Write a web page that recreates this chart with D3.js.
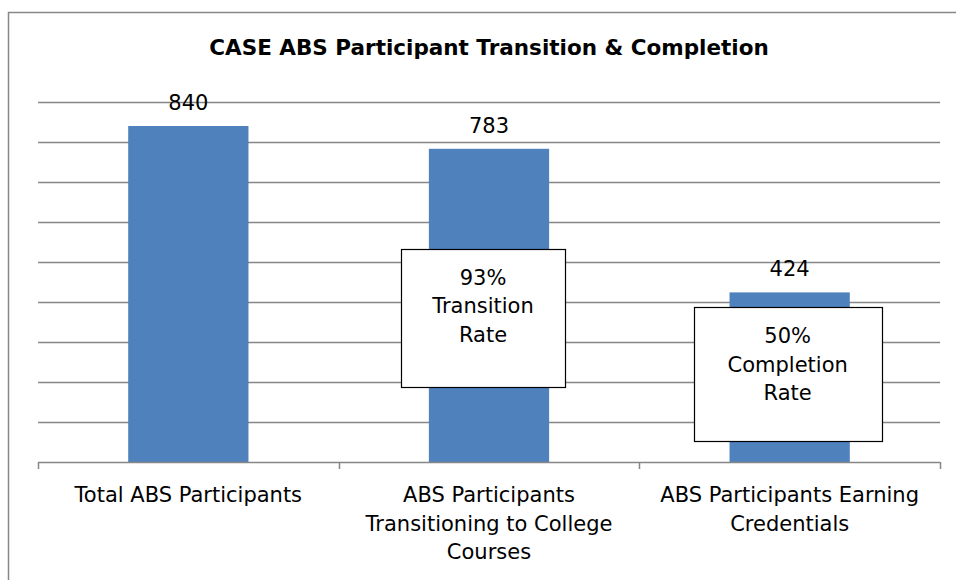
<!DOCTYPE html>
<html>
<head>
<meta charset="utf-8">
<script src="https://cdn.jsdelivr.net/npm/d3@7"></script>
<style>
  body { margin: 0; background: #fff; }
  text { font-family: 'DejaVu Sans', sans-serif; fill: #000; }
</style>
</head>
<body>
<div id="chart_area"></div>
<script>
// chart data
const categories = [
  ['Total ABS Participants'],
  ['ABS Participants', 'Transitioning to College', 'Courses'],
  ['ABS Participants Earning', 'Credentials']
];
const values = [840, 783, 424];
const yTicks = [0, 100, 200, 300, 400, 500, 600, 700, 800, 900];
const rateLabels = [null, ['93%', 'Transition', 'Rate'], ['50%', 'Completion', 'Rate']];
const title = 'CASE ABS Participant Transition & Completion';

const svgWidth = 956;
const svgHeight = 580;
const margin = { top: 102, right: 16, bottom: 118, left: 38 };
const width = svgWidth - margin.left - margin.right;
const height = svgHeight - margin.top - margin.bottom;
const fontSize = 21;

const svg = d3
  .select('#chart_area')
  .append('svg')
  .attr('width', svgWidth)
  .attr('height', svgHeight);

// outer frame
svg
  .append('rect')
  .attr('x', 8.5)
  .attr('y', 12.5)
  .attr('width', 1000)
  .attr('height', 700)
  .attr('fill', 'none')
  .attr('stroke', '#878787')
  .attr('stroke-width', 1.5);

svg
  .append('text')
  .attr('x', 489)
  .attr('y', 55)
  .attr('text-anchor', 'middle')
  .attr('font-size', 21.5)
  .attr('font-weight', 'bold')
  .text(title);

const g = svg
  .append('g')
  .attr('transform', 'translate(' + margin.left + ',' + margin.top + ')');

const x = d3
  .scaleBand()
  .domain(d3.range(values.length))
  .range([0, width])
  .paddingInner(0.6)
  .paddingOuter(0.3);
const y = d3.scaleLinear().domain([0, 900]).range([height, 0]);

// gridlines
g.append('g')
  .selectAll('line')
  .data(yTicks.slice(1))
  .join('line')
  .attr('x1', 0)
  .attr('x2', width)
  .attr('y1', (d) => Math.round(y(d)) + 0.5)
  .attr('y2', (d) => Math.round(y(d)) + 0.5)
  .attr('stroke', '#868686')
  .attr('stroke-width', 1.5);

// bars
g.append('g')
  .selectAll('rect')
  .data(values)
  .join('rect')
  .attr('x', (d, i) => x(i))
  .attr('y', (d) => y(d))
  .attr('width', x.bandwidth())
  .attr('height', (d) => height - y(d))
  .attr('fill', '#4F81BD');

// x axis with ticks between categories
const xEdge = d3.scaleLinear().domain([0, values.length]).range([0, width]);
const axis = g.append('g').attr('transform', 'translate(0,' + height + ')');
axis
  .append('line')
  .attr('x1', 0)
  .attr('x2', width)
  .attr('y1', 0.5)
  .attr('y2', 0.5)
  .attr('stroke', '#868686')
  .attr('stroke-width', 1.5);
axis
  .selectAll('line.tick')
  .data(d3.range(values.length + 1))
  .join('line')
  .attr('class', 'tick')
  .attr('x1', (d) => Math.round(xEdge(d)) + 0.5)
  .attr('x2', (d) => Math.round(xEdge(d)) + 0.5)
  .attr('y1', 0)
  .attr('y2', 7)
  .attr('stroke', '#868686')
  .attr('stroke-width', 1.5);

// category labels
categories.forEach((lines, i) => {
  const t = axis
    .append('text')
    .attr('x', x(i) + x.bandwidth() / 2)
    .attr('y', 40)
    .attr('text-anchor', 'middle')
    .attr('font-size', fontSize);
  lines.forEach((line, j) => {
    t.append('tspan')
      .attr('x', x(i) + x.bandwidth() / 2)
      .attr('dy', j === 0 ? 0 : 28.5)
      .text(line);
  });
});

// value labels
g.append('g')
  .selectAll('text')
  .data(values)
  .join('text')
  .attr('x', (d, i) => x(i) + x.bandwidth() / 2)
  .attr('y', (d) => y(d) - 16)
  .attr('text-anchor', 'middle')
  .attr('font-size', fontSize)
  .text((d) => d);

// rate callout boxes
const boxes = g.append('g');
rateLabels.forEach((lines, i) => {
  if (!lines) return;
  const cx = x(i) + x.bandwidth() / 2;
  const boxW = i === 1 ? 164 : 188;
  const boxH = i === 1 ? 138 : 134;
  const top = y(values[i]) + (i === 1 ? 100 : 15);
  boxes
    .append('rect')
    .attr('x', Math.round(cx - boxW / 2 - (i === 1 ? 6 : 2)) + 0.5)
    .attr('y', Math.round(top) + 0.5)
    .attr('width', boxW)
    .attr('height', boxH)
    .attr('fill', '#fff')
    .attr('stroke', '#000')
    .attr('stroke-width', 1.2);
  const t = boxes
    .append('text')
    .attr('x', cx - (i === 1 ? 6 : 2))
    .attr('y', top + 36)
    .attr('text-anchor', 'middle')
    .attr('font-size', fontSize);
  lines.forEach((line, j) => {
    t.append('tspan')
      .attr('x', cx - (i === 1 ? 6 : 2))
      .attr('dy', j === 0 ? 0 : 28.5)
      .text(line);
  });
});
</script>
</body>
</html>
